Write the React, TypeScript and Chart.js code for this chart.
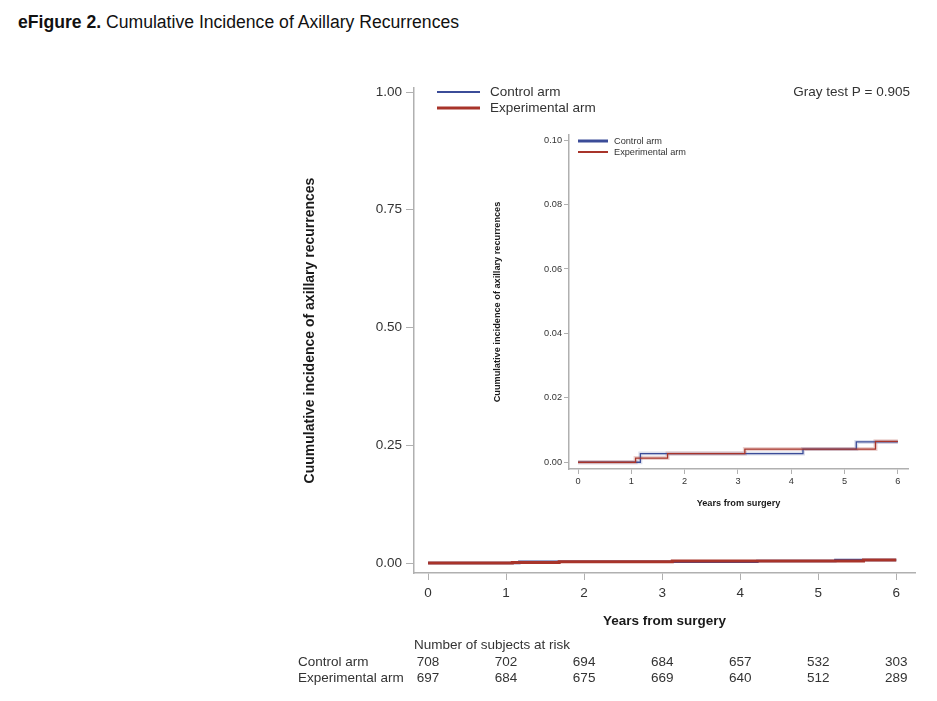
import React, { useEffect, useRef } from "react";
import { Chart, registerables } from "chart.js";

Chart.register(...registerables);

const FONT = "'Liberation Sans', Arial, Helvetica, sans-serif";
const TEXT = "#333333";
const TITLE_C = "#1a1a1a";
const BLUE = "#3b4c98";
const RED = "#a8342a";
const AXIS = "#b0b0b0";
const MAIN_FS = 13.5;
const INSET_FS = 9.2;

// ---- data ----
const seriesNames = ["Control arm", "Experimental arm"];
const controlTimes = [0, 1.17, 4.22, 5.22, 6.0];
const controlCI = [0, 0.0027, 0.0041, 0.0063, 0.0063];
const expTimes = [0, 1.08, 1.68, 3.13, 5.58, 6.0];
const expCI = [0, 0.0013, 0.0027, 0.0041, 0.0065, 0.0065];
const xTicks = [0, 1, 2, 3, 4, 5, 6];
const mainYTicks = [0, 0.25, 0.5, 0.75, 1];
const insetYTicks = [0, 0.02, 0.04, 0.06, 0.08, 0.1];
const riskControl = [708, 702, 694, 684, 657, 532, 303];
const riskExp = [697, 684, 675, 669, 640, 512, 289];
const riskHeader = "Number of subjects at risk";
const grayTest = "Gray test P = 0.905";
const yTitle = "Cuumulative incidence of axillary recurrences";
const xTitle = "Years from surgery";
const figLabel = "eFigure 2.";
const figTitle = " Cumulative Incidence of Axillary Recurrences";

const pts = (t: number[], v: number[]) => t.map((x, i) => ({ x, y: v[i] }));

const mainDecor = {
  id: "mainDecor",
  afterDraw(chart: any) {
    const ctx = chart.ctx;
    const ca = chart.chartArea;
    const xs = chart.scales.x;
    ctx.save();
    ctx.textBaseline = "middle";
    ctx.font = `${MAIN_FS}px ${FONT}`;
    // legend
    const rows = [
      { name: seriesNames[0], color: BLUE, w: 2 },
      { name: seriesNames[1], color: RED, w: 3 },
    ];
    rows.forEach((r, i) => {
      const y = ca.top + 4 + i * 16;
      ctx.strokeStyle = r.color;
      ctx.lineWidth = r.w;
      ctx.beginPath();
      ctx.moveTo(ca.left + 23, y);
      ctx.lineTo(ca.left + 66, y);
      ctx.stroke();
      ctx.fillStyle = TEXT;
      ctx.textAlign = "left";
      ctx.fillText(r.name, ca.left + 76, y);
    });
    // gray test
    ctx.textAlign = "right";
    ctx.fillText(grayTest, ca.right - 5, ca.top + 4);
    // risk table
    ctx.textAlign = "left";
    ctx.fillText(riskHeader, ca.left, 645);
    const tableRows = [
      { name: seriesNames[0], vals: riskControl, y: 662 },
      { name: seriesNames[1], vals: riskExp, y: 678 },
    ];
    tableRows.forEach((r) => {
      ctx.textAlign = "left";
      ctx.fillText(r.name, 298, r.y);
      ctx.textAlign = "center";
      r.vals.forEach((v, i) => {
        ctx.fillText(String(v), xs.getPixelForValue(xTicks[i]), r.y);
      });
    });
    ctx.restore();
  },
};

const insetDecor = {
  id: "insetDecor",
  afterDraw(chart: any) {
    const ctx = chart.ctx;
    const ca = chart.chartArea;
    ctx.save();
    ctx.textBaseline = "middle";
    ctx.font = `${INSET_FS}px ${FONT}`;
    const rows = [
      { name: seriesNames[0], color: BLUE, w: 3 },
      { name: seriesNames[1], color: RED, w: 2 },
    ];
    rows.forEach((r, i) => {
      const y = ca.top + 6 + i * 11;
      ctx.strokeStyle = r.color;
      ctx.lineWidth = r.w;
      ctx.beginPath();
      ctx.moveTo(ca.left + 9, y);
      ctx.lineTo(ca.left + 39, y);
      ctx.stroke();
      ctx.fillStyle = TEXT;
      ctx.textAlign = "left";
      ctx.fillText(r.name, ca.left + 45, y);
    });
    ctx.restore();
  },
};

function axisCommon(fontSize: number, tickLen: number, pad: number) {
  return {
    grid: { drawOnChartArea: false, drawTicks: true, tickLength: tickLen, color: AXIS, lineWidth: 1 },
    border: { display: true, color: AXIS, width: 1.5 },
    ticks: {
      font: { family: FONT, size: fontSize },
      color: TEXT,
      padding: pad,
      maxRotation: 0,
      autoSkip: false,
    },
  };
}

export default function App() {
  const mainRef = useRef<HTMLCanvasElement>(null);
  const insetRef = useRef<HTMLCanvasElement>(null);

  useEffect(() => {
    const mainCfg: any = {
      type: "line",
      data: {
        datasets: [
          {
            label: seriesNames[0],
            data: pts(controlTimes, controlCI),
            borderColor: BLUE,
            borderWidth: 2.5,
            stepped: "before",
            pointRadius: 0,
            fill: false,
            order: 1,
          },
          {
            label: seriesNames[1],
            data: pts(expTimes, expCI),
            borderColor: RED,
            borderWidth: 3,
            stepped: "before",
            pointRadius: 0,
            fill: false,
            order: 0,
          },
        ],
      },
      options: {
        animation: false,
        responsive: false,
        maintainAspectRatio: false,
        layout: { padding: { left: 302, top: 88, right: 22, bottom: 72 } },
        plugins: { legend: { display: false }, tooltip: { enabled: false } },
        scales: {
          x: {
            type: "linear",
            min: -0.18,
            max: 6.24,
            afterBuildTicks: (s: any) => {
              s.ticks = xTicks.map((v) => ({ value: v }));
            },
            afterFit: (s: any) => {
              s.height = 56;
            },
            ...axisCommon(MAIN_FS, 7, 5),
            title: {
              display: true,
              text: xTitle,
              font: { family: FONT, size: 13.5, weight: "bold" },
              color: TITLE_C,
              padding: 0,
            },
          },
          y: {
            type: "linear",
            min: -0.0212,
            max: 1.0085,
            afterBuildTicks: (s: any) => {
              s.ticks = mainYTicks.map((v) => ({ value: v }));
            },
            afterFit: (s: any) => {
              s.width = 112;
            },
            ...axisCommon(MAIN_FS, 8, 4),
            title: {
              display: true,
              text: yTitle,
              font: { family: FONT, size: 14, weight: "bold" },
              color: TITLE_C,
              padding: 0,
            },
          },
        },
      },
      plugins: [mainDecor],
    };
    mainCfg.options.scales.x.ticks.callback = (v: any) => String(v);
    mainCfg.options.scales.y.ticks.callback = (v: any) => Number(v).toFixed(2);

    const insetCfg: any = {
      type: "line",
      data: {
        datasets: [
          {
            label: seriesNames[0] + " band",
            data: pts(controlTimes, controlCI),
            borderColor: "rgba(59,76,152,0.18)",
            borderWidth: 4,
            stepped: "before",
            pointRadius: 0,
            order: 3,
          },
          {
            label: seriesNames[1] + " band",
            data: pts(expTimes, expCI),
            borderColor: "rgba(168,52,42,0.22)",
            borderWidth: 4,
            stepped: "before",
            pointRadius: 0,
            order: 2,
          },
          {
            label: seriesNames[0],
            data: pts(controlTimes, controlCI),
            borderColor: BLUE,
            borderWidth: 1.3,
            stepped: "before",
            pointRadius: 0,
            order: 1,
          },
          {
            label: seriesNames[1],
            data: pts(expTimes, expCI),
            borderColor: RED,
            borderWidth: 1.3,
            stepped: "before",
            pointRadius: 0,
            order: 0,
          },
        ],
      },
      options: {
        animation: false,
        responsive: false,
        maintainAspectRatio: false,
        layout: { padding: { left: 12, top: 10, right: 12, bottom: 6 } },
        plugins: { legend: { display: false }, tooltip: { enabled: false } },
        scales: {
          x: {
            type: "linear",
            min: -0.169,
            max: 6.19,
            afterBuildTicks: (s: any) => {
              s.ticks = xTicks.map((v) => ({ value: v }));
            },
            afterFit: (s: any) => {
              s.height = 40;
            },
            ...axisCommon(INSET_FS, 5, 2),
            title: {
              display: true,
              text: xTitle,
              font: { family: FONT, size: 9.2, weight: "bold" },
              color: TITLE_C,
              padding: 0,
            },
          },
          y: {
            type: "linear",
            min: -0.0021,
            max: 0.1016,
            afterBuildTicks: (s: any) => {
              s.ticks = insetYTicks.map((v) => ({ value: v }));
            },
            afterFit: (s: any) => {
              s.width = 77;
            },
            ...axisCommon(INSET_FS, 5, 2),
            title: {
              display: true,
              text: yTitle,
              font: { family: FONT, size: 9.2, weight: "bold" },
              color: TITLE_C,
              padding: 0,
            },
          },
        },
      },
      plugins: [insetDecor],
    };
    insetCfg.options.scales.x.ticks.callback = (v: any) => String(v);
    insetCfg.options.scales.y.ticks.callback = (v: any) => Number(v).toFixed(2);

    const main = new Chart(mainRef.current as HTMLCanvasElement, mainCfg);
    const inset = new Chart(insetRef.current as HTMLCanvasElement, insetCfg);
    return () => {
      main.destroy();
      inset.destroy();
    };
  }, []);

  return (
    <div
      style={{
        position: "absolute",
        left: 0,
        top: 0,
        width: 937,
        height: 701,
        background: "#ffffff",
        overflow: "hidden",
      }}
    >
      <div
        style={{
          position: "absolute",
          left: 18,
          top: 12,
          fontFamily: FONT,
          fontSize: 17.6,
          lineHeight: "20px",
          color: "#111",
          whiteSpace: "nowrap",
        }}
      >
        <b>{figLabel}</b>
        <span>{figTitle}</span>
      </div>
      <canvas
        ref={mainRef}
        width={937}
        height={701}
        style={{ position: "absolute", left: 0, top: 0, width: 937, height: 701 }}
      />
      <canvas
        ref={insetRef}
        width={440}
        height={390}
        style={{ position: "absolute", left: 480, top: 125, width: 440, height: 390 }}
      />
    </div>
  );
}
